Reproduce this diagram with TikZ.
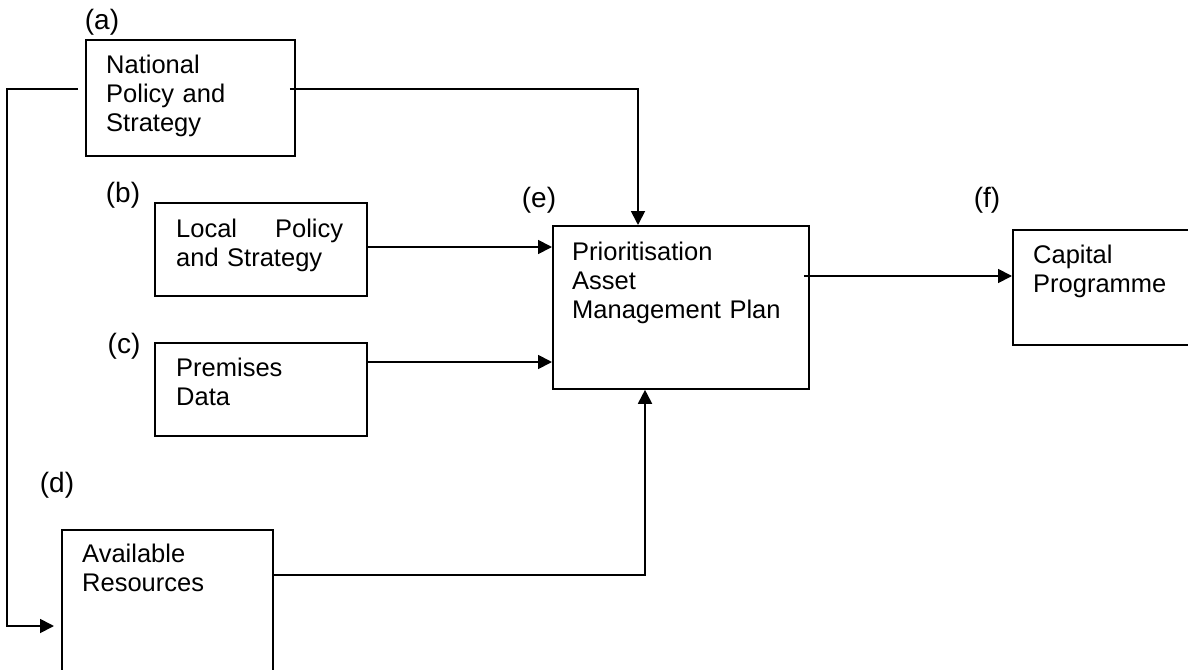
\documentclass[tikz,border=0pt]{standalone}
\usepackage{fontspec}
\setmainfont{Liberation Sans}
\usetikzlibrary{arrows.meta,calc}
\begin{document}
\begin{tikzpicture}[x=1pt,y=-1pt,
  boxshape/.style={draw, line width=1.8pt, rectangle, inner sep=0pt, anchor=north west},
  txt/.style={anchor=base west, inner sep=0pt, align=left, text width=300pt,
              font=\fontsize{25.5}{29}\selectfont},
  lbl/.style={anchor=center, inner sep=0pt, font=\fontsize{28}{32}\selectfont},
  arr/.style={line width=1.8pt, -{Triangle[length=14pt,width=14pt]}}
]
\useasboundingbox (0,0) rectangle (1188,669);
\clip (0,0) rectangle (1188,669);

% boxes
\node[boxshape, minimum width=209pt, minimum height=116pt] (a) at (85,39) {};
\node[boxshape, minimum width=212pt, minimum height=93pt] (b) at (154,202) {};
\node[boxshape, minimum width=212pt, minimum height=93pt] (c) at (154,342) {};
\node[boxshape, minimum width=211pt, minimum height=170pt] (d) at (61,529) {};
\node[boxshape, minimum width=256pt, minimum height=163pt] (e) at (552,225) {};
\node[boxshape, minimum width=220pt, minimum height=115pt] (f) at (1012,229) {};

% texts
\node[txt] (ta) at (106,74) {National\\Policy and\\Strategy};
\node[txt, text width=167pt] (tb) at (176,237) {Local\hfill Policy\\and Strategy};
\node[txt] (tc) at (176,376) {Premises\\Data};
\node[txt] (td) at (82,562) {Available\\Resources};
\node[txt] (te) at (572,260) {Prioritisation\\Asset\\Management Plan};
\node[txt] (tf) at (1033,263) {Capital\\Programme};

% labels
\node[lbl] (la) at (102,22) {(a)};
\node[lbl] (lb) at (123,195) {(b)};
\node[lbl] (lc) at (124,346) {(c)};
\node[lbl] (ld) at (57,485) {(d)};
\node[lbl] (le) at (539,200) {(e)};
\node[lbl] (lf) at (987,200) {(f)};

% connectors
\draw[arr] ($(a.north west)+(-7,50)$) -- ++(-71,0) |- ($(d.north west)+(-7,97)$);
\draw[arr] ($(a.north east)+(-6,50)$) -| ($(e.north west)+(86,0)$);
\draw[arr] ($(b.north east)+(0,45)$) -- ($(e.north west)+(0,22)$);
\draw[arr] ($(c.north east)+(0,20)$) -- ($(e.north west)+(0,137)$);
\draw[arr] ($(d.north east)+(0,46)$) -| ($(e.south west)+(93,0)$);
\draw[arr] ($(e.north east)+(-6,51)$) -- ($(f.north west)+(0,47)$);
\end{tikzpicture}
\end{document}
